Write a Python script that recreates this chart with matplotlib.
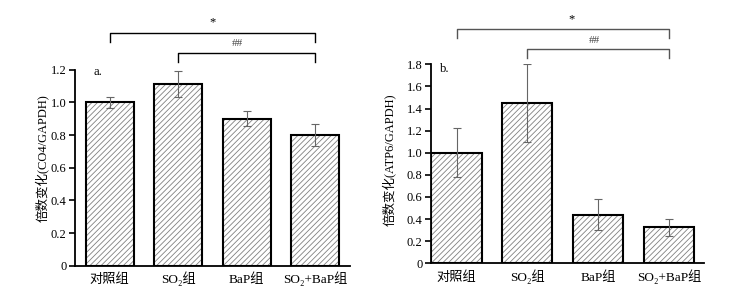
import matplotlib
matplotlib.use("Agg")
import matplotlib.pyplot as plt

plt.rcParams["font.family"] = ["Liberation Serif", "Noto Sans CJK SC", "DejaVu Serif"]
plt.rcParams["hatch.linewidth"] = 0.6

groups = ["对照组", "SO₂组", "BaP组", "SO₂+BaP组"]

co4_mean = [1.00, 1.11, 0.90, 0.80]
co4_err = [0.035, 0.08, 0.047, 0.068]

atp6_mean = [1.00, 1.45, 0.44, 0.325]
atp6_err = [0.22, 0.355, 0.143, 0.08]


def draw_panel(ax, means, errs, ymax, yticks, ylabel, tag, xlim, width,
               star_y, hash_y, drop, bracket_color, tag_pos, star_x, hash_x,
               label_pos):
    x = list(range(len(groups)))
    # hatch drawn in grey, outline in black on top
    ax.bar(x, means, width=width, color="white", edgecolor="#808080",
           hatch="//////", linewidth=0)
    ax.bar(x, means, width=width, color="none", edgecolor="black",
           linewidth=1.5)
    ax.errorbar(x, means, yerr=errs, fmt="none", ecolor="#666666",
                elinewidth=0.8, capsize=3, capthick=0.8)

    ax.set_xlim(*xlim)
    ax.set_ylim(0, ymax)
    ax.set_yticks(yticks)
    ax.set_yticklabels(["0" if v == 0 else f"{v:.1f}" for v in yticks])
    ax.set_xticks(x)
    ax.set_xticklabels(groups)
    ax.tick_params(axis="x", length=0, pad=12.5, labelsize=9.5)
    for lab in ax.get_xticklabels():
        lab.set_va("baseline")
    ax.tick_params(axis="y", direction="out", length=4, width=1.2,
                   labelsize=9, pad=2)
    for side in ["top", "right"]:
        ax.spines[side].set_visible(False)
    for side in ["left", "bottom"]:
        ax.spines[side].set_linewidth(1.3)

    ax.set_ylabel(ylabel, fontsize=9)
    ax.yaxis.set_label_coords(*label_pos)

    # significance brackets
    ax.plot([0, 0, 3, 3], [star_y - drop, star_y, star_y, star_y - drop],
            color=bracket_color, lw=1.0, clip_on=False)
    ax.plot([1, 1, 3, 3], [hash_y - drop, hash_y, hash_y, hash_y - drop],
            color=bracket_color, lw=1.0, clip_on=False)
    ax.text(star_x, star_y + drop * 0.5, "*", ha="center", va="bottom",
            fontsize=9)
    ax.text(hash_x, hash_y + drop * 0.5, "##", ha="center", va="bottom",
            fontsize=8, color="#444444")
    ax.text(tag_pos[0], tag_pos[1], tag, ha="left", va="center", fontsize=9)


fig = plt.figure(figsize=(7.33, 2.96), dpi=100)

ax1 = fig.add_axes([0.102, 0.1024, 0.375, 0.662])
draw_panel(ax1, co4_mean, co4_err, 1.2, [0, 0.2, 0.4, 0.6, 0.8, 1.0, 1.2],
           "倍数变化(CO4/GAPDH)", "a.", (-0.51, 3.5), 0.70,
           1.425, 1.304, 0.056, "black", (-0.24, 1.186), 1.5, 1.87,
           (-0.095, 0.55))

ax2 = fig.add_axes([0.588, 0.1105, 0.372, 0.672])
draw_panel(ax2, atp6_mean, atp6_err, 1.8,
           [0, 0.2, 0.4, 0.6, 0.8, 1.0, 1.2, 1.4, 1.6, 1.8],
           "倍数变化(ATP6/GAPDH)", "b.", (-0.36, 3.49), 0.706,
           2.117, 1.936, 0.08, "#555555", (-0.23, 1.76), 1.63, 1.95,
           (-0.13, 0.52))

fig.savefig("out.png", dpi=100)
